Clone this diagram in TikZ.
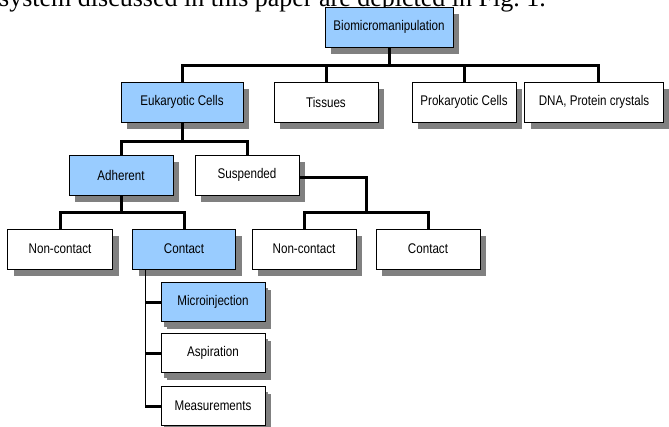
\documentclass[tikz,border=0pt]{standalone}
\usepackage{fontspec}
\setmainfont{Liberation Serif}
\newfontfamily\boxfont[FakeStretch=0.83]{Liberation Sans}
\usepackage{tikz}
\usetikzlibrary{positioning}
\usetikzlibrary{shadows}

\definecolor{boxblue}{RGB}{153,204,255}
\definecolor{shadowgray}{RGB}{128,128,128}

\begin{document}
\begin{tikzpicture}
  [x=1pt, y=-1pt,
  box/.style={rectangle, draw, thin, minimum height=40pt, inner sep=0pt,
    font=\boxfont\fontsize{14}{16}\selectfont,
    drop shadow={shadow xshift=6pt, shadow yshift=-7pt, fill=shadowgray, opacity=1}},
  bluebox/.style={box, fill=boxblue},
  whitebox/.style={box, fill=white},
  leafbox/.style={box, minimum width=104pt, minimum height=39pt,
    drop shadow={shadow xshift=3pt, shadow yshift=-5pt, fill=shadowgray, opacity=1}},
  link/.style={line width=3pt}]
\useasboundingbox (0,0) rectangle (669,426);
\clip (0,0) rectangle (669,426);

% page text cut by the figure
\node [anchor=base west, inner sep=0pt, font=\fontsize{26}{30}\selectfont] (intro) at (-1,6)
  {system discussed in this paper are depicted in Fig.~1.};

% level 0
\node [bluebox, minimum width=128pt] (bio) at (389,27) {Biomicromanipulation};

% level 1
\node [bluebox, minimum width=122pt] (euk) at (182,102) {Eukaryotic Cells};
\node [whitebox, minimum width=104pt] (tis) at (326,102) {Tissues};
\node [whitebox, minimum width=104pt] (pro) at (464,102) {Prokaryotic Cells};
\node [whitebox, minimum width=139pt] (dna) at (594,102) {DNA, Protein crystals};

% level 2
\node [bluebox, minimum width=104pt] (adh) at (121,175) {Adherent};
\node [whitebox, minimum width=104pt] (sus) at (247,175) {Suspended};

% level 3
\node [whitebox, minimum width=105pt] (adhnon) at (60,249) {Non-contact};
\node [bluebox, minimum width=103pt] (adhcon) at (184,249) {Contact};
\node [whitebox, minimum width=104pt] (susnon) at (304,249) {Non-contact};
\node [whitebox, minimum width=104pt] (suscon) at (428,249) {Contact};

% level 4
\node [leafbox, fill=boxblue] (inj) at (213,302) {Microinjection};
\node [leafbox, fill=white] (asp) at (213,353) {Aspiration};
\node [leafbox, fill=white] (mea) at (213,406) {Measurements};

% connectors
\draw [link] (bio.south) -- ++(0,18) -| (euk.north);
\draw [link] (bio.south) -- ++(0,18) -| (tis.north);
\draw [link] (bio.south) -- ++(0,18) -| (pro.north);
\draw [link] (bio.south) -- ++(0,18) -| ([xshift=4pt]dna.north);

\draw [link] (euk.south) -- ++(0,19) -| (adh.north);
\draw [link] (euk.south) -- ++(0,19) -| (sus.north);

\draw [link] (adh.south) -- ++(0,17) -| (adhnon.north);
\draw [link] (adh.south) -- ++(0,17) -| (adhcon.north);

\coordinate (susjoint) at (366,212);
\draw [link] ([yshift=-2pt]sus.east) -| (susjoint) -| (susnon.north);
\draw [link] (susjoint) -| (suscon.north);

\draw [thin] ([xshift=13pt]adhcon.south west) |- (mea.west);
\draw [link] (inj.west) -- ++(-16,0);
\draw [link] (asp.west) -- ++(-16,0);
\draw [link] (mea.west) -- ++(-16,0);
\end{tikzpicture}
\end{document}
